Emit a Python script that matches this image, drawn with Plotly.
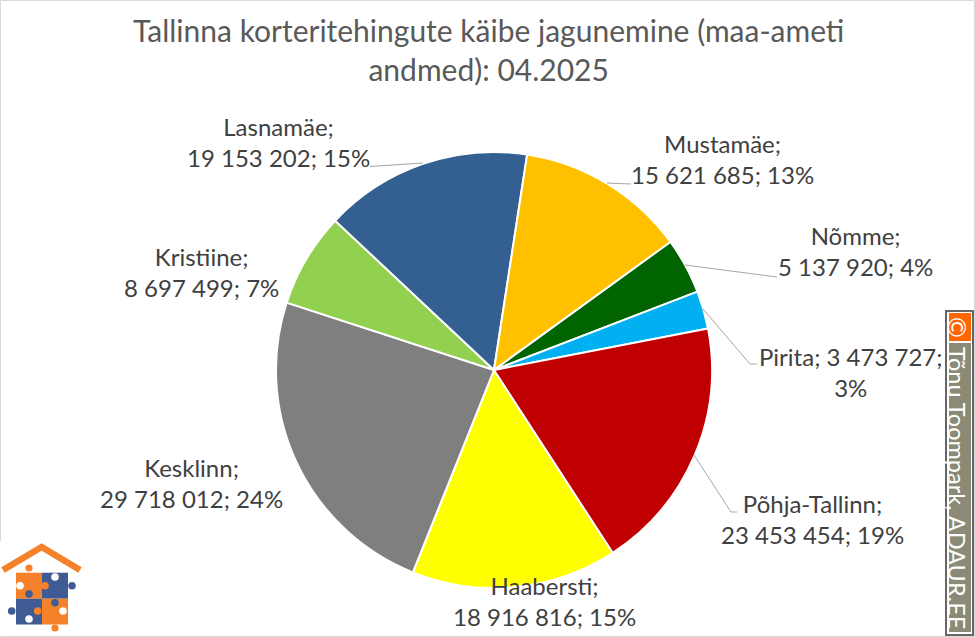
import plotly.graph_objects as go

W, H = 975, 637

districts = ["Haabersti", "Kesklinn", "Kristiine", "Lasnamäe", "Mustamäe", "Nõmme", "Pirita", "Põhja-Tallinn"]
turnover = [18916816, 29718012, 8697499, 19153202, 15621685, 5137920, 3473727, 23453454]
percents = [15, 24, 7, 15, 13, 4, 3, 19]
slice_colors = ["#ffff00", "#7f7f7f", "#92d050", "#335f91", "#ffc000", "#006400", "#00b0f0", "#c00000"]

# sildi keskpunkt pikslites
label_pos = {
    "Haabersti": (544.5, 601),
    "Kesklinn": (191, 482.5),
    "Kristiine": (201, 272),
    "Lasnamäe": (278, 141.5),
    "Mustamäe": (722, 158.5),
    "Nõmme": (855, 251.5),
    "Pirita": (851, 371.5),
    "Põhja-Tallinn": (812, 518.5),
}
leaders = [
    [(370, 166.5), (423, 163)],
    [(607, 183), (631, 184)],
    [(685, 265), (777, 277)],
    [(703, 309), (750, 364), (757, 364)],
    [(694, 455), (731, 512), (737, 512)],
]


def px(x):
    return x / W


def py(y):
    return 1 - y / H


def fmt(v):
    return f"{v:,}".replace(",", " ")


def rect(x0, y0, x1, y1, fill, line=None):
    return dict(type="rect", xref="paper", yref="paper", x0=px(x0), x1=px(x1), y0=py(y0), y1=py(y1),
                fillcolor=fill, line=dict(width=0) if line is None else dict(width=2, color=line))


def dot(cx, cy, r, fill):
    return dict(type="circle", xref="paper", yref="paper", x0=px(cx - r), x1=px(cx + r), y0=py(cy - r), y1=py(cy + r),
                fillcolor=fill, line=dict(width=0))


def poly(points, color, width):
    path = "M " + " L ".join(f"{px(x)} {py(y)}" for x, y in points)
    return dict(type="path", xref="paper", yref="paper", path=path, line=dict(color=color, width=width))


def note(x, y, text, size, color, angle=0):
    return dict(x=px(x), y=py(y), xref="paper", yref="paper", showarrow=False, xanchor="center", yanchor="middle",
                text=text, textangle=angle, font=dict(size=size, color=color))


fig = go.Figure(go.Pie(
    labels=districts, values=turnover,
    sort=False, direction="clockwise", rotation=147,
    marker=dict(colors=slice_colors, line=dict(color="white", width=2)),
    textinfo="none", hoverinfo="label+value+percent",
    domain=dict(x=[px(494 - 218), px(494 + 218)], y=[py(588), py(152)]),
))

shapes = [rect(0.5, 0.5, W - 0.5, H - 0.5, "rgba(0,0,0,0)", "#d9d9d9")]
shapes[0]["line"]["width"] = 1
for pts in leaders:
    shapes.append(poly(pts, "#a6a6a6", 1))

# logo
ORANGE, BLUE = "#f5822a", "#3f5b94"
shapes.append(rect(0, 541, 84, 636, "white"))
shapes.append(poly([(3, 570), (41.7, 547), (80, 570)], ORANGE, 6.5))
shapes += [
    rect(16, 572.7, 42, 598.7, ORANGE), rect(42, 572.7, 68, 598.7, BLUE),
    rect(16, 598.7, 42, 624.5, BLUE), rect(42, 598.7, 68, 624.5, ORANGE),
    dot(29, 568, 3.6, ORANGE), dot(20, 585.7, 3.8, "white"), dot(55, 577, 3.8, "white"),
    dot(72, 585.7, 3.8, BLUE), dot(45, 585.7, 3.8, ORANGE), dot(29, 594, 3.8, BLUE), dot(11.7, 611, 3.8, BLUE),
    dot(37.7, 611, 3.8, ORANGE), dot(29, 619, 3.8, "white"), dot(55, 602.7, 3.8, BLUE),
    dot(63, 611, 3.8, "white"), dot(55, 628, 3.6, ORANGE),
]

# autoriõiguse märk paremal
shapes += [
    rect(946, 311, 973, 635, "white", "#666666"),
    rect(949, 313, 971, 341, "#ff6600"),
    rect(949, 343, 971, 632, "#8a8a76"),
]

annotations = [note(488, 50, "Tallinna korteritehingute käibe jagunemine (maa-ameti<br>andmed): 04.2025", 30, "#595959")]
for name, v, pct in zip(districts, turnover, percents):
    x, y = label_pos[name]
    if name == "Pirita":
        text = f"{name}; {fmt(v)};<br>{pct}%"
    else:
        text = f"{name};<br>{fmt(v)}; {pct}%"
    annotations.append(note(x, y, text, 24, "#404040"))
annotations.append(note(958, 327, "©", 25, "white", 90))
annotations.append(note(957, 488, "Tõnu Toompark, ADAUR.EE", 23.5, "white", 90))

fig.update_layout(
    width=W, height=H,
    margin=dict(l=0, r=0, t=0, b=0),
    paper_bgcolor="white",
    font=dict(family="Lato, sans-serif"),
    showlegend=False,
    shapes=shapes,
    annotations=annotations,
)
fig.write_html("out.html", config=dict(displayModeBar=False), post_script="document.body.style.margin='0';")
